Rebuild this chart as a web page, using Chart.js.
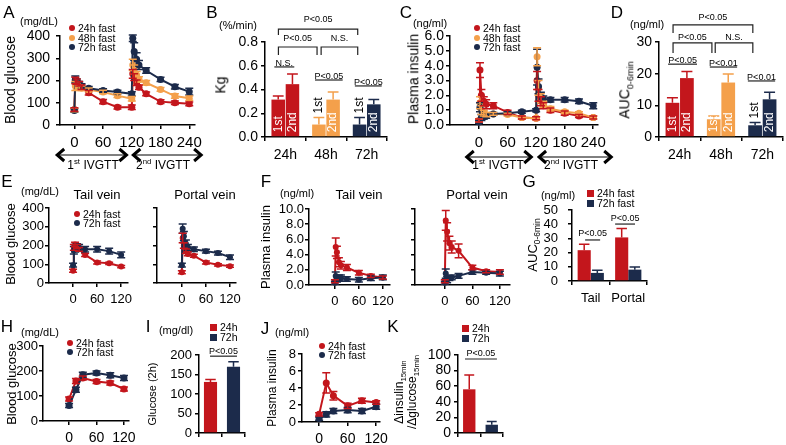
<!DOCTYPE html>
<html>
<head>
<meta charset="utf-8">
<script src="https://cdn.jsdelivr.net/npm/chart.js@4.4.1/dist/chart.umd.min.js"></script>
<style>
  body { margin: 0; background: #fff; }
  #page { position: relative; width: 786px; height: 445px; overflow: hidden; font-family: "Liberation Sans", Arial, sans-serif; }
  #page canvas { position: absolute; left: 0; top: 0; }
  .lbl { position: absolute; white-space: nowrap; line-height: 1.1; color: #000; text-align: center; }
  .lbl sup, .lbl sub { font-size: 0.65em; line-height: 0; }
  .key { position: absolute; display: flex; align-items: center; height: 10px; font-size: 10.5px; white-space: nowrap; }
  .key i { display: inline-block; width: 6px; height: 6px; border-radius: 50%; margin-right: 3px; }
</style>
</head>
<body>
<div id="page"></div>
<script>
const RED = '#c3161c', ORANGE = '#f4a04b', NAVY = '#1c2b4b';

// A, C: two IVGTTs in a row (min)
const ivgttTime = [0, 2, 5, 10, 15, 30, 60, 90, 120, 122, 125, 130, 135, 150, 180, 210, 240];
const ivgttTicks = [0, 60, 120, 180, 240];
const fastGroups = ['24h fast', '48h fast', '72h fast'];

const gluA24 = [70, 200, 195, 185, 170, 145, 105, 80, 80, 230, 215, 190, 170, 140, 105, 100, 95];
const gluA24Err = [8, 15, 12, 10, 10, 10, 10, 8, 10, 20, 15, 12, 10, 8, 8, 8, 8];
const gluA48 = [68, 175, 172, 168, 165, 158, 148, 132, 118, 270, 250, 225, 205, 190, 160, 130, 120];
const gluA48Err = [8, 20, 15, 12, 10, 8, 8, 8, 10, 25, 20, 15, 12, 10, 8, 10, 10];
const gluA72 = [65, 205, 195, 185, 175, 165, 155, 148, 140, 390, 330, 295, 270, 245, 205, 172, 150];
const gluA72Err = [8, 15, 12, 10, 10, 8, 8, 8, 10, 15, 40, 30, 20, 12, 10, 10, 15];

const insC24 = [0.3, 3.7, 2.0, 1.6, 1.4, 1.3, 0.85, 0.5, 0.45, 3.0, 2.0, 1.6, 1.3, 1.0, 0.8, 0.6, 0.5];
const insC24Err = [0.1, 0.5, 0.4, 0.3, 0.3, 0.2, 0.15, 0.1, 0.1, 0.6, 0.4, 0.3, 0.2, 0.15, 0.15, 0.1, 0.1];
const insC48 = [0.3, 1.5, 1.0, 0.8, 0.7, 0.75, 0.7, 0.5, 0.45, 4.6, 2.5, 1.8, 1.4, 1.1, 0.9, 0.8, 0.5];
const insC48Err = [0.1, 0.4, 0.3, 0.2, 0.15, 0.1, 0.1, 0.1, 0.1, 0.6, 0.5, 0.3, 0.2, 0.15, 0.1, 0.1, 0.1];
const insC72 = [0.2, 1.2, 0.5, 0.55, 0.6, 0.75, 0.8, 0.9, 1.0, 3.9, 2.6, 1.9, 1.75, 1.7, 1.7, 1.6, 1.3];
const insC72Err = [0.1, 0.3, 0.2, 0.15, 0.15, 0.1, 0.1, 0.1, 0.1, 1.2, 0.5, 0.3, 0.2, 0.15, 0.15, 0.15, 0.2];

// B, D: 1st vs 2nd IVGTT
const fastHours = ['24h', '48h', '72h'];
const kg1st = [0.315, 0.105, 0.105], kg1stErr = [0.03, 0.06, 0.06];
const kg2nd = [0.445, 0.315, 0.275], kg2ndErr = [0.085, 0.065, 0.04];
const auc1st = [10.8, 5.6, 3.7], auc1stErr = [1.6, 1.0, 0.9];
const auc2nd = [18.6, 17.2, 11.9], auc2ndErr = [2.1, 2.7, 2.2];

// E, F: tail vs portal vein
const veinTime = [0, 2, 5, 10, 15, 30, 60, 90, 120];
const shortTicks = [0, 60, 120];
const fastPair = ['24h fast', '72h fast'];
const gluTail24 = [65, 190, 205, 195, 180, 150, 110, 105, 88], gluTail24Err = [8, 15, 12, 10, 10, 8, 8, 6, 6];
const gluTail72 = [95, 175, 185, 195, 190, 180, 180, 170, 150], gluTail72Err = [10, 20, 20, 15, 15, 15, 15, 15, 15];
const gluPort24 = [58, 240, 200, 170, 155, 145, 110, 97, 90], gluPort24Err = [8, 25, 15, 12, 10, 8, 8, 6, 6];
const gluPort72 = [95, 290, 250, 210, 190, 180, 170, 160, 138], gluPort72Err = [10, 25, 25, 20, 15, 12, 10, 10, 12];
const insTail24 = [0.5, 5.0, 4.3, 3.0, 2.6, 2.3, 1.6, 1.2, 1.0], insTail24Err = [0.2, 1.2, 0.8, 0.6, 0.5, 0.4, 0.3, 0.2, 0.2];
const insTail72 = [0.3, 1.2, 0.8, 0.9, 0.9, 0.8, 0.7, 0.9, 1.0], insTail72Err = [0.2, 0.5, 0.4, 0.4, 0.4, 0.3, 0.3, 0.3, 0.3];
const insPort24 = [0.5, 8.5, 7.0, 5.5, 5.0, 4.5, 2.3, 1.8, 1.7], insPort24Err = [0.2, 1.3, 1.2, 0.9, 0.8, 0.9, 0.3, 0.2, 0.3];
const insPort72 = [0.3, 1.5, 0.7, 0.9, 1.0, 1.2, 1.7, 1.6, 1.5], insPort72Err = [0.2, 0.6, 0.4, 0.3, 0.3, 0.3, 0.3, 0.2, 0.3];

// G
const veinSites = ['Tail', 'Portal'];
const aucVein24 = [21.7, 30.7], aucVein24Err = [4.2, 6.3];
const aucVein72 = [5.7, 8.0], aucVein72Err = [1.8, 1.9];

// H-K: OGTT
const ogttTime = [0, 15, 30, 60, 90, 120];
const shortHours = ['24h', '72h'];
const gluO24 = [88, 160, 172, 158, 152, 128], gluO24Err = [8, 10, 8, 8, 8, 8];
const gluO72 = [62, 125, 185, 192, 183, 172], gluO72Err = [8, 10, 10, 8, 10, 10];
const glu2h = [131, 170], glu2hErr = [6, 13];
const insO24 = [0.9, 4.6, 3.1, 1.9, 2.5, 2.3], insO24Err = [0.2, 1.2, 0.5, 0.3, 0.3, 0.2];
const insO72 = [0.4, 0.9, 1.3, 1.4, 1.3, 1.8], insO72Err = [0.2, 0.3, 0.3, 0.3, 0.3, 0.3];
const ratio15 = [56, 10.6], ratio15Err = [18.5, 4.3];

// ---------- plugins ----------
const W = 786, H = 445;
const FONT = '"Liberation Sans", Arial, sans-serif';
Chart.defaults.font.family = FONT;
Chart.defaults.color = '#000';

const errorBars = {
  id: 'errorBars',
  afterDatasetsDraw(chart) {
    const ctx = chart.ctx, y = chart.scales.y;
    chart.data.datasets.forEach((ds, i) => {
      if (!ds.err) return;
      const meta = chart.getDatasetMeta(i);
      const bar = meta.type === 'bar';
      ctx.save();
      ctx.lineWidth = 1.5;
      meta.data.forEach((el, j) => {
        const v = bar ? ds.data[j] : ds.data[j].y;
        const c = ds.borderColor || ds.backgroundColor;
        ctx.strokeStyle = Array.isArray(c) ? c[j] : c;
        const top = y.getPixelForValue(v + ds.err[j]);
        const bot = y.getPixelForValue(bar ? v : v - ds.err[j]);
        const half = bar ? el.width * 0.4 : 4;
        ctx.beginPath();
        ctx.moveTo(el.x, bot); ctx.lineTo(el.x, top);
        ctx.moveTo(el.x - half, top); ctx.lineTo(el.x + half, top);
        if (!bar) { ctx.moveTo(el.x - half, bot); ctx.lineTo(el.x + half, bot); }
        ctx.stroke();
      });
      ctx.restore();
    });
  }
};

const barText = {
  id: 'barText',
  afterDatasetsDraw(chart, args, opts) {
    if (!opts.on) return;
    const ctx = chart.ctx, y = chart.scales.y;
    chart.data.datasets.forEach((ds, i) => {
      chart.getDatasetMeta(i).data.forEach((el, j) => {
        const inside = el.base - el.y >= 16;
        ctx.save();
        ctx.font = '12px ' + FONT;
        ctx.fillStyle = inside ? '#fff' : '#000';
        ctx.translate(el.x, inside ? el.base - 4 : y.getPixelForValue(ds.data[j] + ds.err[j]) - 4);
        ctx.rotate(-Math.PI / 2);
        ctx.textAlign = 'left'; ctx.textBaseline = 'middle';
        ctx.fillText(ds.label, 0, 0);
        ctx.restore();
      });
    });
  }
};

const sigMarks = {
  id: 'sigMarks',
  afterDraw(chart, args, opts) {
    if (!opts.items) return;
    const { ctx, scales: { x, y } } = chart;
    ctx.save();
    ctx.strokeStyle = '#222'; ctx.fillStyle = '#000'; ctx.lineWidth = 1.2;
    ctx.font = '9px ' + FONT;
    ctx.textAlign = 'center'; ctx.textBaseline = 'alphabetic';
    opts.items.forEach(m => {
      const x1 = x.getPixelForValue(m.from), x2 = x.getPixelForValue(m.to), yy = y.getPixelForValue(m.at);
      ctx.beginPath();
      if (m.drop) { ctx.moveTo(x1, yy + m.drop); ctx.lineTo(x1, yy); ctx.lineTo(x2, yy); ctx.lineTo(x2, yy + m.drop); }
      else { ctx.moveTo(x1, yy); ctx.lineTo(x2, yy); }
      ctx.stroke();
      ctx.fillText(m.text, (x1 + x2) / 2, yy - (m.gap || 2));
    });
    ctx.restore();
  }
};

const phaseArrows = {
  id: 'phaseArrows',
  afterDraw(chart, args, opts) {
    if (!opts.spans) return;
    const { ctx, chartArea, scales: { x } } = chart;
    const yy = chartArea.bottom + opts.below;
    ctx.save();
    ctx.strokeStyle = '#000';
    opts.spans.forEach(([a, b]) => {
      const x1 = x.getPixelForValue(a), x2 = x.getPixelForValue(b);
      ctx.lineWidth = 1;
      ctx.beginPath(); ctx.moveTo(x1 + 2, yy); ctx.lineTo(x2 - 2, yy); ctx.stroke();
      ctx.lineWidth = 3;
      ctx.beginPath();
      ctx.moveTo(x1 + 9, yy - 6); ctx.lineTo(x1 + 2, yy); ctx.lineTo(x1 + 9, yy + 6);
      ctx.moveTo(x2 - 9, yy - 6); ctx.lineTo(x2 - 2, yy); ctx.lineTo(x2 - 9, yy + 6);
      ctx.stroke();
    });
    ctx.restore();
  }
};

Chart.register(errorBars, barText, sigMarks, phaseArrows);

// ---------- builders ----------
const page = document.getElementById('page');

function addCanvas() {
  const c = document.createElement('canvas');
  c.width = W; c.height = H;
  page.appendChild(c);
  return c;
}

// padding that puts the plot area on box = [left, top, right, bottom]
function frame(box, yW, xH) {
  return { left: box[0] - yW, top: box[1], right: W - box[2], bottom: H - box[3] - xH };
}

function axis(size, extra, tickExtra) {
  return Object.assign({
    border: { color: '#000', width: 1.5 },
    grid: { drawOnChartArea: false, color: '#000', lineWidth: 1.5, tickLength: 4 },
    ticks: Object.assign({ color: '#000', font: { size }, padding: 3, autoSkip: false, maxRotation: 0 }, tickExtra)
  }, extra);
}

function yTicks(o) {
  const t = { stepSize: o.yStep, padding: o.yPad != null ? o.yPad : 3 };
  if (o.noY) t.callback = () => '';
  else if (o.yFmt) t.callback = o.yFmt;
  return t;
}

function lineChart(o) {
  const yW = 40, xH = Math.min(25, H - o.box[3]);
  return new Chart(addCanvas(), {
    type: 'scatter',
    data: {
      datasets: o.series.map(s => ({
        data: o.times.map((t, i) => ({ x: t, y: s.vals[i] })),
        err: s.err,
        showLine: true,
        borderColor: s.color,
        backgroundColor: s.color,
        borderWidth: 2,
        pointRadius: o.radius || 3.5,
        pointBorderWidth: 0,
        clip: false
      }))
    },
    options: {
      responsive: false,
      animation: false,
      layout: { padding: frame(o.box, yW, xH) },
      plugins: { legend: { display: false }, tooltip: { enabled: false }, phaseArrows: o.arrows || {} },
      scales: {
        x: axis(o.xSize, {
          type: 'linear', min: o.xMin, max: o.xMax,
          afterFit: s => { s.height = xH; },
          afterBuildTicks: s => { s.ticks = o.xTicks.map(v => ({ value: v })); }
        }, { padding: 5 }),
        y: axis(o.ySize, { min: 0, max: o.yMax, afterFit: s => { s.width = yW; } }, yTicks(o))
      }
    }
  });
}

function barChart(o) {
  const yW = 40, xH = Math.min(25, H - o.box[3]);
  return new Chart(addCanvas(), {
    type: 'bar',
    data: {
      labels: o.labels,
      datasets: o.sets.map(s => ({
        label: s.name, data: s.vals, err: s.err, backgroundColor: s.color,
        categoryPercentage: o.cat, barPercentage: o.bar
      }))
    },
    options: {
      responsive: false,
      animation: false,
      layout: { padding: frame(o.box, yW, xH) },
      plugins: {
        legend: { display: false }, tooltip: { enabled: false },
        sigMarks: { items: o.sig || [] }, barText: { on: !!o.barText }
      },
      scales: {
        x: axis(o.xSize || 14, { afterFit: s => { s.height = xH; } },
          o.hideX ? { callback: () => '' } : { padding: 6 }),
        y: axis(o.ySize, { min: 0, max: o.yMax, afterFit: s => { s.width = yW; } }, yTicks(o))
      }
    }
  });
}

const fix1 = v => v.toFixed(1);

// ---------- row 1 ----------
lineChart({
  box: [60, 36, 195, 125], xMin: -30, xMax: 252, xTicks: ivgttTicks, times: ivgttTime,
  yMax: 400, yStep: 100, ySize: 14, xSize: 15, yPad: 6,
  series: [
    { vals: gluA72, err: gluA72Err, color: NAVY },
    { vals: gluA48, err: gluA48Err, color: ORANGE },
    { vals: gluA24, err: gluA24Err, color: RED }
  ],
  arrows: { below: 30, spans: [[-40, 113], [119, 269]] }
});

barChart({
  box: [265, 42, 387, 137], labels: fastHours, yMax: 0.8, yStep: 0.2, yFmt: fix1, ySize: 14, xSize: 14,
  cat: 0.7, bar: 0.95, barText: true,
  sets: [
    { name: '1st', vals: kg1st, err: kg1stErr, color: [RED, ORANGE, NAVY] },
    { name: '2nd', vals: kg2nd, err: kg2ndErr, color: [RED, ORANGE, NAVY] }
  ],
  sig: [
    { from: -0.27, to: 0.22, at: 0.59, text: 'N.S.', gap: 1 },
    { from: 0.73, to: 1.41, at: 0.48, text: 'P<0.05', gap: 1 },
    { from: 1.71, to: 2.37, at: 0.43, text: 'P<0.05', gap: 1 },
    { from: -0.17, to: 0.78, at: 0.758, drop: 8, text: 'P<0.05', gap: 6 },
    { from: 0.88, to: 1.78, at: 0.758, drop: 8, text: 'N.S.', gap: 6 },
    { from: -0.17, to: 1.78, at: 0.909, drop: 6, text: 'P<0.05', gap: 7 }
  ]
});

lineChart({
  box: [450, 36, 598, 125], xMin: -61, xMax: 250, xTicks: ivgttTicks, times: ivgttTime,
  yMax: 6, yStep: 1, yFmt: fix1, ySize: 14, xSize: 15, yPad: 2,
  series: [
    { vals: insC72, err: insC72Err, color: NAVY },
    { vals: insC48, err: insC48Err, color: ORANGE },
    { vals: insC24, err: insC24Err, color: RED }
  ],
  arrows: { below: 32, spans: [[-30, 114], [122, 282]] }
});

barChart({
  box: [659, 42, 783, 137], labels: fastHours, yMax: 30, yStep: 10, ySize: 14, xSize: 14,
  cat: 0.7, bar: 0.95, barText: true,
  sets: [
    { name: '1st', vals: auc1st, err: auc1stErr, color: [RED, ORANGE, NAVY] },
    { name: '2nd', vals: auc2nd, err: auc2ndErr, color: [RED, ORANGE, NAVY] }
  ],
  sig: [
    { from: -0.28, to: 0.42, at: 23.0, text: 'P<0.05', gap: 1 },
    { from: 0.73, to: 1.39, at: 22.1, text: 'P<0.01', gap: 1 },
    { from: 1.65, to: 2.31, at: 17.7, text: 'P<0.01', gap: 1 },
    { from: -0.16, to: 0.78, at: 29.7, drop: 10, text: 'P<0.05', gap: 3 },
    { from: 0.86, to: 1.77, at: 29.7, drop: 10, text: 'N.S.', gap: 3 },
    { from: -0.16, to: 1.77, at: 35.4, drop: 8, text: 'P<0.05', gap: 5 }
  ]
});

// ---------- row 2 ----------
lineChart({
  box: [49, 208, 128, 283], xMin: -60, xMax: 137, xTicks: shortTicks, times: veinTime,
  yMax: 400, yStep: 100, ySize: 13, xSize: 13, radius: 3, yPad: 1,
  series: [{ vals: gluTail72, err: gluTail72Err, color: NAVY }, { vals: gluTail24, err: gluTail24Err, color: RED }]
});
lineChart({
  box: [157, 208, 236, 283], xMin: -62, xMax: 135, xTicks: shortTicks, times: veinTime,
  yMax: 400, yStep: 100, ySize: 13, xSize: 13, radius: 3, noY: true,
  series: [{ vals: gluPort72, err: gluPort72Err, color: NAVY }, { vals: gluPort24, err: gluPort24Err, color: RED }]
});
lineChart({
  box: [309, 209, 390, 285], xMin: -65, xMax: 138, xTicks: shortTicks, times: veinTime,
  yMax: 10, yStep: 2, yFmt: fix1, ySize: 13, xSize: 13, radius: 3, yPad: 1,
  series: [{ vals: insTail72, err: insTail72Err, color: NAVY }, { vals: insTail24, err: insTail24Err, color: RED }]
});
lineChart({
  box: [415, 209, 510, 285], xMin: -65, xMax: 142, xTicks: shortTicks, times: veinTime,
  yMax: 10, yStep: 2, ySize: 13, xSize: 13, radius: 3, noY: true,
  series: [{ vals: insPort72, err: insPort72Err, color: NAVY }, { vals: insPort24, err: insPort24Err, color: RED }]
});
barChart({
  box: [572, 210, 647, 281], labels: veinSites, yMax: 50, yStep: 10, ySize: 13, xSize: 13, yPad: 10,
  cat: 0.7, bar: 1,
  sets: [
    { name: fastPair[0], vals: aucVein24, err: aucVein24Err, color: RED },
    { name: fastPair[1], vals: aucVein72, err: aucVein72Err, color: NAVY }
  ],
  sig: [
    { from: -0.15, to: 0.25, at: 28.9, text: 'P<0.05', gap: 4 },
    { from: 0.65, to: 1.18, at: 40.1, text: 'P<0.05', gap: 3 }
  ]
});

// ---------- row 3 ----------
lineChart({
  box: [43, 346, 129, 421], xMin: -57, xMax: 131, xTicks: shortTicks, times: ogttTime,
  yMax: 300, yStep: 100, ySize: 13, xSize: 14, yPad: 1,
  series: [{ vals: gluO72, err: gluO72Err, color: NAVY }, { vals: gluO24, err: gluO24Err, color: RED }]
});
barChart({
  box: [199, 355, 245, 433], labels: shortHours, yMax: 200, yStep: 50, ySize: 13, hideX: true,
  cat: 1, bar: 0.57,
  sets: [{ name: 'glucose', vals: glu2h, err: glu2hErr, color: [RED, NAVY] }],
  sig: [{ from: -0.02, to: 1.15, at: 197, text: 'P<0.05', gap: 2 }]
});
lineChart({
  box: [302, 354, 380, 422], xMin: -36, xMax: 128, xTicks: shortTicks, times: ogttTime,
  yMax: 8, yStep: 2, ySize: 13, xSize: 14, yPad: 2,
  series: [{ vals: insO72, err: insO72Err, color: NAVY }, { vals: insO24, err: insO24Err, color: RED }]
});
barChart({
  box: [458, 355, 503, 433], labels: shortHours, yMax: 100, yStep: 20, ySize: 14, hideX: true,
  cat: 1, bar: 0.55,
  sets: [{ name: 'ratio', vals: ratio15, err: ratio15Err, color: [RED, NAVY] }],
  sig: [{ from: -0.19, to: 1.23, at: 94.9, text: 'P<0.05', gap: 3 }]
});

// ---------- text ----------
function txt(html, x, y, size, rot) {
  const d = document.createElement('div');
  d.className = 'lbl';
  d.innerHTML = html;
  d.style.cssText = `left:${x}px;top:${y}px;font-size:${size}px;transform:translate(-50%,-50%)${rot ? ' rotate(-90deg)' : ''}`;
  page.appendChild(d);
}
function key(x, y, color, name, square) {
  const d = document.createElement('div');
  d.className = 'key';
  d.style.left = (x - 3) + 'px';
  d.style.top = (y - 5) + 'px';
  d.innerHTML = `<i style="background:${color};${square ? 'border-radius:0;width:7px;height:7px;' : ''}"></i>${name}`;
  page.appendChild(d);
}

[['A', 9, 13], ['B', 212, 13], ['C', 406, 13], ['D', 617, 13], ['E', 7, 182], ['F', 266, 182],
 ['G', 529, 182], ['H', 7, 327], ['I', 148, 327], ['J', 265, 329], ['K', 393, 327]]
  .forEach(([s, x, y]) => txt(s, x, y, 17));

txt('(mg/dL)', 39, 21, 11); txt('(%/min)', 238, 25, 11); txt('(ng/ml)', 430, 23, 11); txt('(ng/ml)', 647, 24, 11);
txt('(mg/dL)', 40, 191, 11); txt('(ng/ml)', 297, 193, 11); txt('(ng/ml)', 558, 195, 11);
txt('(mg/dL)', 40, 332, 11); txt('(mg/dl)', 176, 330, 11); txt('(ng/ml)', 292, 332, 11);

txt('Blood glucose', 11, 80, 14, true);
txt('Kg', 221, 85, 14, true);
txt('Plasma insulin', 414, 79, 14, true);
txt('AUC<sub>0-6min</sub>', 625, 90, 14, true);
txt('Blood glucose', 11, 244, 13, true);
txt('Plasma insulin', 266, 247, 13, true);
txt('AUC<sub>0-6min</sub>', 533, 245, 13, true);
txt('Blood glucose', 12, 384, 13, true);
txt('Glucose (2h)', 152, 394, 11, true);
txt('Plasma insulin', 273, 388, 12, true);
txt('Δinsulin<sub>15min</sub><br>/Δglucose<sub>15min</sub>', 406, 392, 12, true);

txt('Tail vein', 97, 195, 13); txt('Portal vein', 205, 195, 13);
txt('Tail vein', 359, 195, 13); txt('Portal vein', 477, 195, 13);

txt('1<sup>st</sup> IVGTT', 93, 166, 12); txt('2<sup>nd</sup> IVGTT', 163, 166, 12);
txt('1<sup>st</sup> IVGTT', 498, 166, 12); txt('2<sup>nd</sup> IVGTT', 571, 166, 12);

const tri = [RED, ORANGE, NAVY];
fastGroups.forEach((n, i) => { key(72, 28 + 9.5 * i, tri[i], n); key(477, 28 + 9.5 * i, tri[i], n); });
fastPair.forEach((n, i) => {
  const c = [RED, NAVY][i];
  key(77, 214 + 9 * i, c, n);
  key(590, 193 + 10 * i, c, n, true);
  key(70, 343 + 9 * i, c, n);
  key(322, 346 + 8.5 * i, c, n);
});
shortHours.forEach((n, i) => {
  const c = [RED, NAVY][i];
  key(213, 327 + 10 * i, c, n, true);
  key(465, 328 + 10 * i, c, n, true);
});
</script>
</body>
</html>
